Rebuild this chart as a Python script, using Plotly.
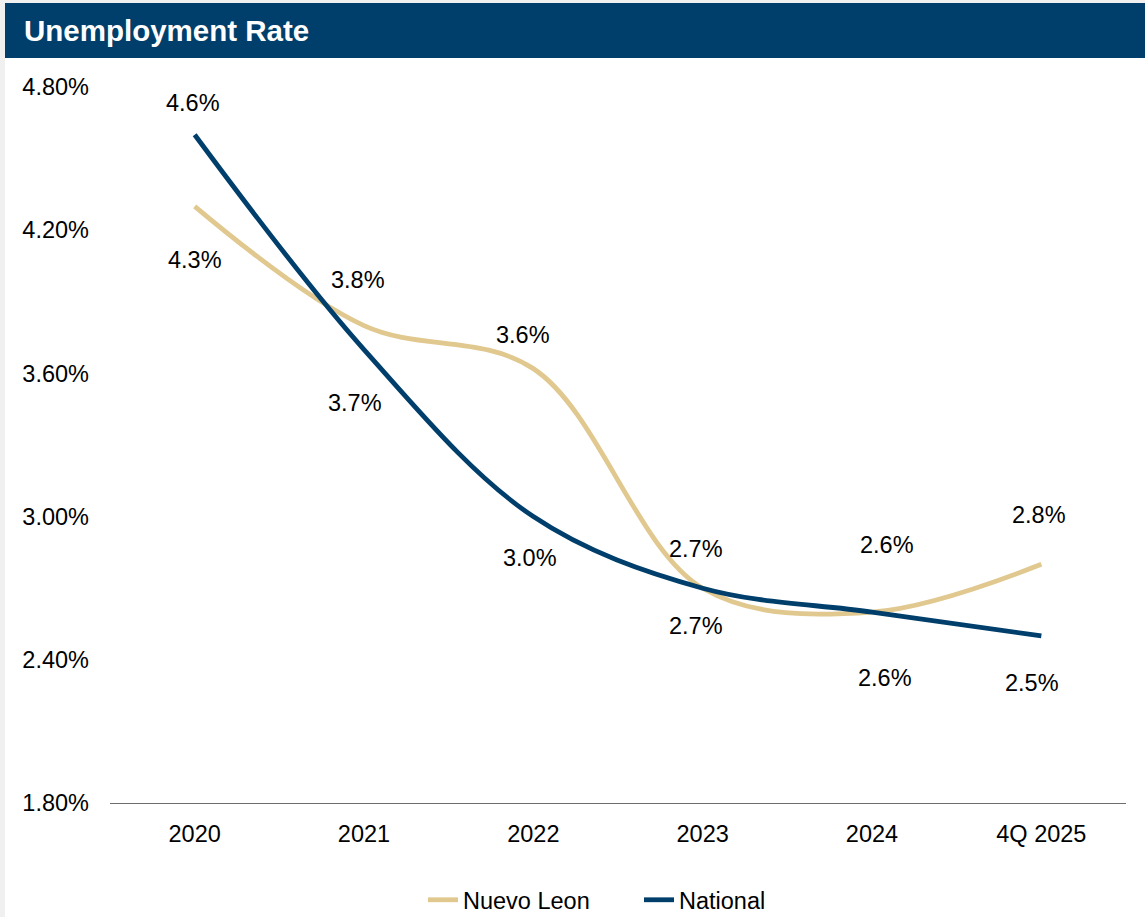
import plotly.graph_objects as go

categories = ["2020", "2021", "2022", "2023", "2024", "4Q 2025"]
nuevo_leon = [4.3, 3.8, 3.62, 2.7, 2.6, 2.8]
national = [4.6, 3.7, 3.0, 2.7, 2.6, 2.5]
nl_labels = ["4.3%", "3.8%", "3.6%", "2.7%", "2.6%", "2.8%"]
nat_labels = ["4.6%", "3.7%", "3.0%", "2.7%", "2.6%", "2.5%"]
y_ticks = [1.8, 2.4, 3.0, 3.6, 4.2, 4.8]
y_tick_text = ["1.80%", "2.40%", "3.00%", "3.60%", "4.20%", "4.80%"]

# label offsets (style only, pixels)
nl_shift = [(0, -54), (-6, 46), (-10, 34), (-7, 39), (15, 67), (-2, 49)]
nat_shift = [(-2, 32), (-9, -53), (-3, -41), (-7, -38), (13, -66), (-9, -47)]

GOLD = "#E0C88F"
NAVY = "#003F6B"
FONT = "Liberation Sans, Arial, sans-serif"
FS = 23.5

fig = go.Figure()
fig.add_trace(go.Scatter(x=categories, y=nuevo_leon, name="Nuevo Leon", mode="lines",
                         line=dict(color=GOLD, width=4.8, shape="spline", smoothing=1.0)))
fig.add_trace(go.Scatter(x=categories, y=national, name="National", mode="lines",
                         line=dict(color=NAVY, width=4.8, shape="spline", smoothing=1.0)))

annotations = []
for i, (v, t, s) in enumerate(zip(nuevo_leon, nl_labels, nl_shift)):
    annotations.append(dict(x=i, y=v, xref="x", yref="y", text=t, showarrow=False,
                            xshift=s[0], yshift=s[1],
                            font=dict(size=FS, color="#000000", family=FONT)))
for i, (v, t, s) in enumerate(zip(national, nat_labels, nat_shift)):
    annotations.append(dict(x=i, y=v, xref="x", yref="y", text=t, showarrow=False,
                            xshift=s[0], yshift=s[1],
                            font=dict(size=FS, color="#000000", family=FONT)))

# title bar text
annotations.append(dict(xref="paper", yref="paper", x=(22 - 110) / 1016, y=(803 - 31) / 716,
                        xanchor="left", yanchor="middle", showarrow=False,
                        text="<b>Unemployment Rate</b>",
                        font=dict(size=29.5, color="#FFFFFF", family=FONT)))

shapes = [
    # white card over gray page
    dict(type="rect", xref="paper", yref="paper", layer="below",
         x0=(5 - 110) / 1016, x1=(1145 - 110) / 1016, y0=(803 - 917) / 716, y1=(803 - 3) / 716,
         fillcolor="#FFFFFF", line=dict(width=0)),
    # title bar
    dict(type="rect", xref="paper", yref="paper", layer="below",
         x0=(5 - 110) / 1016, x1=(1145 - 110) / 1016, y0=(803 - 58) / 716, y1=(803 - 3) / 716,
         fillcolor=NAVY, line=dict(width=0)),
]

fig.update_layout(
    width=1145, height=917,
    margin=dict(l=110, r=19, t=87, b=114, autoexpand=False),
    paper_bgcolor="#F0F0F0",
    plot_bgcolor="#FFFFFF",
    font=dict(family=FONT, size=FS, color="#000000"),
    showlegend=True,
    legend=dict(orientation="h", x=(423 - 110) / 1016, xanchor="left",
                y=(803 - 900) / 716, yanchor="middle",
                font=dict(size=FS, family=FONT), tracegroupgap=0,
                entrywidth=171, entrywidthmode="pixels",
                bgcolor="rgba(0,0,0,0)"),
    annotations=annotations,
    shapes=shapes,
    xaxis=dict(type="category", showgrid=False, zeroline=False, showline=True,
               linecolor="#6E6E6E", linewidth=1.3, ticks="", ticklabelstandoff=10,
               range=[-0.5, 5.5], tickfont=dict(size=FS, family=FONT)),
    yaxis=dict(range=[1.8, 4.8], tickvals=y_ticks, ticktext=y_tick_text,
               showgrid=False, zeroline=False, showline=False, ticks="",
               ticklabelstandoff=20, tickfont=dict(size=FS, family=FONT)),
)

fig.write_html("out.html")
